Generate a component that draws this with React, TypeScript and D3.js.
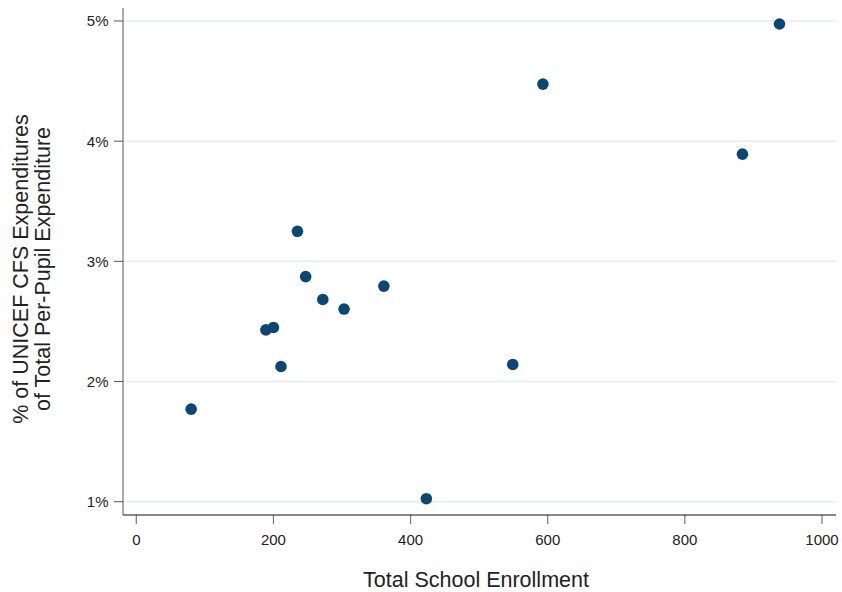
import React from "react";
import * as d3 from "d3";

const enrollment = [80, 189, 200, 211, 235, 247, 272, 303, 361, 423, 549, 593, 884, 938];
const cfsShare = [1.77, 2.43, 2.45, 2.125, 3.25, 2.873, 2.683, 2.603, 2.794, 1.025, 2.142, 4.475, 3.892, 4.975];
const xTicks = [0, 200, 400, 600, 800, 1000];
const yTicks = [1, 2, 3, 4, 5];
const xTitle = "Total School Enrollment";
const yTitleLines = ["% of UNICEF CFS Expenditures", "of Total Per-Pupil Expenditure"];

const W = 842;
const H = 592;
const plotLeft = 123;
const plotRight = 836;
const plotTop = 8;
const plotBottom = 515;

export default function App() {
  const x = d3.scaleLinear().domain([0, 1000]).range([136.3, 822]);
  const y = d3.scaleLinear().domain([1, 5]).range([501.7, 21]);
  const font = "'Liberation Sans', Arial, Helvetica, sans-serif";
  const pts = enrollment.map((e, i) => ({ e, v: cfsShare[i] }));
  return (
    <svg width={W} height={H} style={{ position: "absolute", left: 0, top: 0, background: "#fff" }} fontFamily={font}>
      {yTicks.map((t) => (
        <g key={"y" + t}>
          <line x1={plotLeft} x2={plotRight} y1={y(t)} y2={y(t)} stroke="#e4edf0" strokeWidth={1.5} />
          <line x1={114} x2={plotLeft} y1={y(t)} y2={y(t)} stroke="#555" strokeWidth={1} />
          <text x={108.5} y={y(t)} dy="0.36em" textAnchor="end" fontSize={15} fill="#222">{t + "%"}</text>
        </g>
      ))}
      {xTicks.map((t) => (
        <g key={"x" + t}>
          <line x1={x(t)} x2={x(t)} y1={plotBottom} y2={plotBottom + 9} stroke="#777" strokeWidth={1.2} />
          <text x={x(t)} y={544.5} textAnchor="middle" fontSize={15} fill="#222">{t}</text>
        </g>
      ))}
      <line x1={plotLeft} x2={plotLeft} y1={plotTop} y2={plotBottom} stroke="#555" strokeWidth={1} />
      <line x1={plotLeft} x2={plotRight} y1={plotBottom} y2={plotBottom} stroke="#111" strokeWidth={1} />
      {pts.map((p, i) => (
        <circle key={i} cx={x(p.e)} cy={y(p.v)} r={5.8} fill="#0b4775" />
      ))}
      <text x={476} y={586.5} textAnchor="middle" fontSize={21.5} fill="#222">{xTitle}</text>
      {yTitleLines.map((l, i) => (
        <text key={i} transform={`translate(${27.5 + i * 22},269) rotate(-90)`} textAnchor="middle" fontSize={21.5} fill="#222">{l}</text>
      ))}
    </svg>
  );
}
